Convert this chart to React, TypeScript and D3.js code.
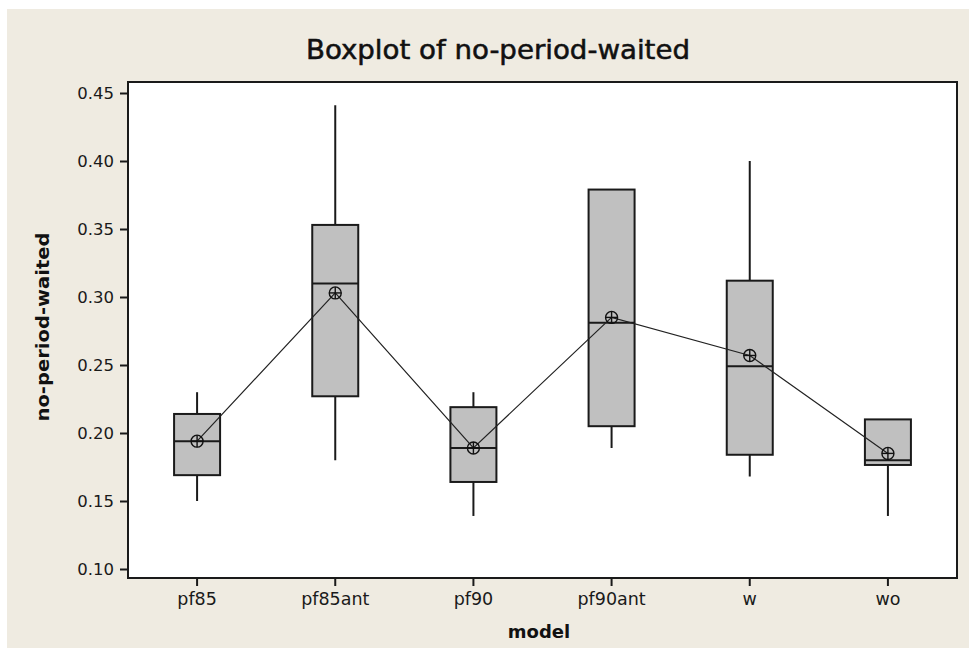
import { useEffect, useRef } from 'react';
import * as d3 from 'd3';

const categories = ['pf85', 'pf85ant', 'pf90', 'pf90ant', 'w', 'wo'];
const whiskerLow = [0.15, 0.18, 0.139, 0.189, 0.168, 0.139];
const q1 = [0.169, 0.227, 0.164, 0.205, 0.184, 0.1765];
const medians = [0.194, 0.31, 0.189, 0.281, 0.249, 0.18];
const q3 = [0.214, 0.353, 0.219, 0.379, 0.312, 0.21];
const whiskerHigh = [0.23, 0.441, 0.23, 0.379, 0.4, 0.21];
const means = [0.194, 0.303, 0.189, 0.285, 0.257, 0.185];
const yTicks = [0.1, 0.15, 0.2, 0.25, 0.3, 0.35, 0.4, 0.45];

const FONT = '"DejaVu Sans", Verdana, sans-serif';
const INK = '#1a1a1a';

export default function App() {
  const svgRef = useRef<SVGSVGElement>(null);

  useEffect(() => {
    if (!svgRef.current) return;
    const width = 969;
    const height = 648;
    const plot = { left: 128, right: 957, top: 82, bottom: 578 };

    const svg = d3.select(svgRef.current);
    svg.selectAll('*').remove();
    svg.attr('width', width).attr('height', height);

    // page background
    svg.append('rect').attr('x', 7).attr('y', 9)
      .attr('width', width - 7).attr('height', height - 9)
      .attr('fill', '#EFEBE1');

    const rows = categories.map((c, i) => ({
      cat: c, lo: whiskerLow[i], q1: q1[i], med: medians[i],
      q3: q3[i], hi: whiskerHigh[i], mean: means[i],
    }));

    const x = d3.scaleBand().domain(categories).range([plot.left, plot.right]).padding(0);
    const y = d3.scaleLinear().domain([0.1, 0.45]).range([569, 93]);
    const cx = (c: string) => (x(c) || 0) + x.bandwidth() / 2;
    const boxW = 46;

    // plot area
    svg.append('rect')
      .attr('x', plot.left).attr('y', plot.top)
      .attr('width', plot.right - plot.left).attr('height', plot.bottom - plot.top)
      .attr('fill', '#fff').attr('stroke', INK).attr('stroke-width', 2);

    // y axis
    const yAxis = svg.append('g')
      .attr('transform', `translate(${plot.left}, 0)`)
      .call(d3.axisLeft(y).tickValues(yTicks).tickFormat(d3.format('.2f')).tickSize(8).tickPadding(6));
    yAxis.select('.domain').remove();
    yAxis.selectAll('line').attr('stroke', INK).attr('stroke-width', 2);
    yAxis.selectAll('text')
      .style('font-family', FONT).style('font-size', '16.5px').attr('fill', INK);

    // x axis
    const xAxis = svg.append('g')
      .attr('transform', `translate(0, ${plot.bottom})`)
      .call(d3.axisBottom(x).tickSize(8).tickPadding(7));
    xAxis.select('.domain').remove();
    xAxis.selectAll('line').attr('stroke', INK).attr('stroke-width', 2);
    xAxis.selectAll('text')
      .style('font-family', FONT).style('font-size', '17.5px').attr('fill', INK);

    // whiskers
    svg.selectAll('.whisker')
      .data(rows)
      .enter()
      .append('line')
      .attr('class', 'whisker')
      .attr('x1', (d) => cx(d.cat)).attr('x2', (d) => cx(d.cat))
      .attr('y1', (d) => y(d.lo)).attr('y2', (d) => y(d.hi))
      .attr('stroke', INK).attr('stroke-width', 2);

    // boxes
    svg.selectAll('.box')
      .data(rows)
      .enter()
      .append('rect')
      .attr('class', 'box')
      .attr('x', (d) => cx(d.cat) - boxW / 2)
      .attr('y', (d) => y(d.q3))
      .attr('width', boxW)
      .attr('height', (d) => y(d.q1) - y(d.q3))
      .attr('fill', '#C0C0C0').attr('stroke', INK).attr('stroke-width', 2);

    // medians
    svg.selectAll('.median')
      .data(rows)
      .enter()
      .append('line')
      .attr('class', 'median')
      .attr('x1', (d) => cx(d.cat) - boxW / 2).attr('x2', (d) => cx(d.cat) + boxW / 2)
      .attr('y1', (d) => y(d.med)).attr('y2', (d) => y(d.med))
      .attr('stroke', INK).attr('stroke-width', 2);

    // mean connect line
    const line = d3.line<(typeof rows)[number]>()
      .x((d) => cx(d.cat))
      .y((d) => y(d.mean));
    svg.append('path')
      .datum(rows)
      .attr('d', line)
      .attr('fill', 'none').attr('stroke', '#222').attr('stroke-width', 1.2);

    // mean symbols (circle with cross)
    const r = 6;
    const sym = svg.selectAll('.mean')
      .data(rows)
      .enter()
      .append('g')
      .attr('class', 'mean')
      .attr('transform', (d) => `translate(${cx(d.cat)}, ${y(d.mean)})`);
    sym.append('circle').attr('r', r).attr('fill', 'none').attr('stroke', '#111').attr('stroke-width', 1.4);
    sym.append('line').attr('x1', -r).attr('x2', r).attr('stroke', '#111').attr('stroke-width', 1.4);
    sym.append('line').attr('y1', -r).attr('y2', r).attr('stroke', '#111').attr('stroke-width', 1.4);

    // title
    svg.append('text')
      .attr('x', 498).attr('y', 59)
      .attr('text-anchor', 'middle')
      .attr('textLength', 384).attr('lengthAdjust', 'spacingAndGlyphs')
      .style('font-family', '"DejaVu Sans Condensed", "DejaVu Sans", sans-serif')
      .style('font-size', '27px')
      .attr('fill', '#111').attr('stroke', '#111').attr('stroke-width', 0.5)
      .text('Boxplot of no-period-waited');

    // axis titles
    svg.append('text')
      .attr('x', 539).attr('y', 638)
      .attr('text-anchor', 'middle')
      .style('font-family', FONT).style('font-size', '18px').style('font-weight', 'bold')
      .attr('fill', '#111')
      .text('model');

    svg.append('text')
      .attr('transform', 'translate(49, 327) rotate(-90)')
      .attr('text-anchor', 'middle')
      .attr('textLength', 189).attr('lengthAdjust', 'spacingAndGlyphs')
      .style('font-family', FONT).style('font-size', '17.5px').style('font-weight', 'bold')
      .attr('fill', '#111')
      .text('no-period-waited');
  }, []);

  return (
    <div style={{ position: 'absolute', left: 0, top: 0 }}>
      <svg ref={svgRef} style={{ display: 'block' }} />
    </div>
  );
}
